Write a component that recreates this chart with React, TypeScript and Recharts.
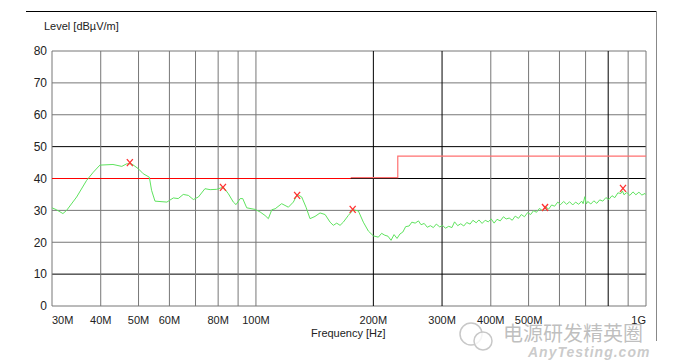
import React from "react";
import {
  ComposedChart, Line, Scatter, XAxis, YAxis, ReferenceLine,
} from "recharts";

// measured trace, MHz / dBµV/m
const traceFreq = [
  30.0, 30.8, 32.0, 32.7, 34.7, 36.8, 38.3, 39.8, 43.0, 45.3, 46.6, 48.0, 49.9, 51.4, 53.3, 54.0, 55.1,
  59.1, 61.4, 63.2, 65.1, 67.1, 69.1, 71.2, 74.0, 76.3, 79.3, 82.5, 85.0, 87.5, 88.9, 91.1, 92.5, 94.7,
  99.5, 102.5, 105.5, 107.6, 109.8, 112.0, 116.4, 121.1, 124.7, 127.7, 131.0, 134.4, 137.6, 141.7, 146.0,
  150.4, 154.9, 157.9, 161.1, 164.3, 167.5, 172.5, 177.7, 183.1, 188.5, 194.2, 200.0,
  206, 210, 214, 218, 222, 226, 230, 234, 238, 242, 247, 251, 256, 261, 265, 270, 275, 280, 285, 290,
  296, 301, 306, 312, 318, 323, 329, 335, 341, 347, 354, 360, 367, 373, 380, 387, 394, 401, 408, 415,
  423, 431, 438, 446, 454, 462, 471, 479, 488, 497, 506, 515, 524, 533, 543, 553, 563, 573, 583, 594,
  604, 615, 626, 637, 649, 660, 672, 684, 690, 697, 703, 709, 722, 735, 748, 761, 775, 789, 803, 818,
  832, 847, 862, 870, 878, 893, 909, 926, 942, 959, 976, 994, 1000,
];
const traceLevel = [
  30.8, 30.2, 29.0, 30.0, 34.2, 39.4, 42.0, 44.2, 44.4, 43.8, 44.6, 44.6, 43.1, 41.5, 40.4, 36.3, 32.9,
  32.6, 33.9, 33.7, 35.0, 34.7, 33.4, 34.2, 36.8, 36.5, 36.6, 37.3, 35.2, 32.6, 31.8, 33.7, 33.7, 30.8,
  30.3, 29.5, 28.4, 27.4, 30.2, 30.5, 32.1, 31.0, 32.6, 35.0, 34.2, 31.0, 27.4, 28.1, 29.2,
  28.7, 26.3, 25.3, 26.0, 25.3, 26.3, 28.4, 30.2, 29.8, 26.3, 23.5, 22.0,
  21.6, 22.8, 22.2, 21.9, 20.6, 22.4, 21.2, 22.6, 23.2, 24.9, 25.1, 26.3, 26.0, 26.7, 25.5, 25.9, 24.7, 25.2, 24.6, 25.7,
  24.8, 25.3, 24.4, 25.0, 24.6, 26.4, 25.2, 25.8, 25.1, 26.2, 25.7, 26.9, 26.1, 27.0, 25.9, 26.9, 26.4, 27.3, 26.0, 27.2,
  26.7, 28.0, 27.3, 27.6, 26.9, 28.2, 27.5, 28.7, 28.0, 29.3, 28.7, 29.9, 29.4, 30.6, 29.9, 31.1, 30.4, 31.7, 31.3, 32.6,
  31.8, 32.8, 31.9, 32.7, 31.7, 32.6, 31.9, 32.9, 32.1, 34.3, 32.0, 32.8, 32.0, 33.0, 32.2, 33.3, 32.9, 34.0, 33.4, 34.6,
  34.0, 35.5, 35.3, 36.1, 34.9, 35.6, 34.7, 35.8, 34.9, 35.7, 34.8, 35.3, 34.9,
];

const peakFreq = [47.5, 82.3, 127.5, 177, 551, 873];
const peakLevel = [45.0, 37.2, 34.7, 30.3, 30.9, 36.9];

const limitAFreq = [30, 175];
const limitALevel = [40, 40];
const limitBFreq = [175, 231, 231, 1000];
const limitBLevel = [40.3, 40.3, 47, 47];

const xTicks = [30, 40, 50, 60, 70, 80, 90, 100, 200, 300, 400, 500, 600, 700, 800, 900, 1000];
const xLabels: Record<number, string> = {
  30: "30M", 40: "40M", 50: "50M", 60: "60M", 80: "80M", 100: "100M",
  200: "200M", 300: "300M", 400: "400M", 500: "500M", 700: "700M", 1000: "1G",
};
const xDark = [200, 300, 800];
const yTicks = [0, 10, 20, 30, 40, 50, 60, 70, 80];
const yDark = [10, 40, 50];

const trace = traceFreq.map((f, i) => ({ f, v: traceLevel[i] }));
const peaks = peakFreq.map((f, i) => ({ f, v: peakLevel[i] }));
const limitA = limitAFreq.map((f, i) => ({ f, v: limitALevel[i] }));
const limitB = limitBFreq.map((f, i) => ({ f, v: limitBLevel[i] }));

const FONT = '"Liberation Sans", Arial, sans-serif';
const GRID = "#777";

const XTick = ({ x, y, payload }: any) => {
  const lab = xLabels[payload.value];
  if (!lab) return null;
  const anchor = payload.value === 30 ? "start" : payload.value === 1000 ? "end" : "middle";
  return (
    <text x={x} y={y + 10} textAnchor={anchor} fontSize={11} fill="#222" fontFamily={FONT}>
      {lab}
    </text>
  );
};

const Cross = ({ cx = 0, cy = 0 }: any) => (
  <g stroke="#ff3030" strokeWidth={1.3}>
    <line x1={cx - 3} y1={cy - 3.5} x2={cx + 3} y2={cy + 3.5} />
    <line x1={cx + 3} y1={cy - 3.5} x2={cx - 3} y2={cy + 3.5} />
  </g>
);

export default function App() {
  return (
    <div style={{ position: "fixed", left: 0, top: 0, width: 677, height: 364, background: "#fff", fontFamily: FONT }}>
      <ComposedChart width={677} height={364} margin={{ top: 51, right: 31, bottom: 28, left: 0 }}>
        <XAxis
          dataKey="f" type="number" scale="log" domain={[30, 1000]} allowDataOverflow
          ticks={xTicks} tick={<XTick />} tickLine={false} axisLine={false} height={30}
        />
        <YAxis
          type="number" domain={[0, 80]} ticks={yTicks} width={52} tickLine={false} tickSize={0}
          tickMargin={5} axisLine={false} allowDataOverflow
          tick={{ fill: "#222", fontSize: 12, fontFamily: FONT }}
        />
        {yTicks.map(t => (
          <ReferenceLine key={"y" + t} y={t} stroke={yDark.includes(t) ? "#000" : GRID} strokeWidth={1} />
        ))}
        {xTicks.map(t => (
          <ReferenceLine key={"x" + t} x={t} stroke={xDark.includes(t) ? "#000" : GRID} strokeWidth={1} />
        ))}
        <Line data={limitA} dataKey="v" type="linear" stroke="#ff0000" strokeWidth={1.2} dot={false} isAnimationActive={false} />
        <Line data={limitB} dataKey="v" type="linear" stroke="#ff7070" strokeWidth={1.2} dot={false} isAnimationActive={false} />
        <Line data={trace} dataKey="v" type="linear" stroke="#5fe35f" strokeWidth={1} dot={false} isAnimationActive={false} />
        <Scatter data={peaks} dataKey="v" shape={<Cross />} isAnimationActive={false} />
      </ComposedChart>

      {/* frame */}
      <div style={{ position: "absolute", left: 26, top: 11, width: 630, height: 0, borderTop: "1px solid #000" }} />
      <div style={{ position: "absolute", left: 656, top: 11, width: 0, height: 330, borderLeft: "1px solid #888" }} />

      <div style={{ position: "absolute", left: 44, top: 20, fontSize: 11, color: "#222" }}>Level [dBµV/m]</div>
      <div style={{ position: "absolute", left: 311, top: 327, fontSize: 11, color: "#222" }}>Frequency [Hz]</div>

      {/* watermark */}
      <svg style={{ position: "absolute", left: 455, top: 320 }} width={45} height={34}>
        <circle cx={16} cy={14} r={11} fill="none" stroke="#c8c8c8" strokeWidth={1.5} />
        <circle cx={28} cy={21} r={9} fill="rgba(255,255,255,0.8)" stroke="#c8c8c8" strokeWidth={1.5} />
      </svg>
      <div style={{ position: "absolute", left: 503, top: 323, fontSize: 20, color: "rgba(170,170,170,0.75)", fontFamily: '"Noto Sans CJK SC", sans-serif', lineHeight: "20px" }}>
        电源研发精英圈
      </div>
      <div style={{ position: "absolute", left: 528, top: 345, fontSize: 14, lineHeight: "15px", fontStyle: "italic", fontWeight: "bold", color: "rgba(180,180,180,0.7)", letterSpacing: 1 }}>
        AnyTesting.com
      </div>
    </div>
  );
}
